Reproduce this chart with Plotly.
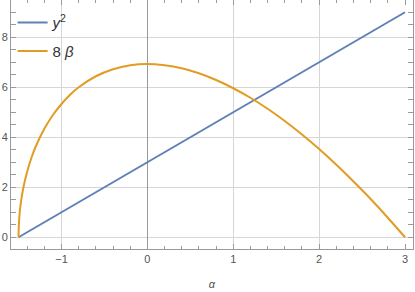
import plotly.graph_objects as go

# ---- data ----
alpha_blue = [-1.5, 3.0]
y2_values = [0.0, 9.0]

alpha_orange = [-1.5, -1.4975, -1.49, -1.48, -1.46, -1.44, -1.40, -1.35, -1.30, -1.20,
                -1.10, -1.00, -0.90, -0.80, -0.60, -0.40, -0.20, 0.00, 0.20, 0.40,
                0.60, 0.80, 1.00, 1.20, 1.40, 1.60, 1.80, 2.00, 2.20, 2.40,
                2.60, 2.80, 3.00]
beta8_values = [0.0, 0.42, 0.85, 1.20, 1.68, 2.05, 2.62, 3.18, 3.63, 4.34,
                4.89, 5.33, 5.70, 6.00, 6.44, 6.72, 6.88, 6.93, 6.88, 6.76,
                6.56, 6.29, 5.96, 5.58, 5.14, 4.65, 4.11, 3.53, 2.90, 2.23,
                1.53, 0.78, 0.0]

x_ticks = [-1, 0, 1, 2, 3]
x_tick_text = ["−1", "0", "1", "2", "3"]
x_grid = [-1, 1, 2]
y_ticks = [0, 2, 4, 6, 8]

BLUE = "#5E81B5"
ORANGE = "#E19C24"
FRAME = "#9a9a9a"
LABEL = "#555555"
GRID = "#d6d6d6"
FONT = "Liberation Sans, Arial, sans-serif"

xr = [-1.588, 3.093]
yr = [-0.47, 9.49]

fig = go.Figure()
# invisible trace on the grid axis (drawn first)
fig.add_trace(go.Scatter(x=[None], y=[None], xaxis="x2", showlegend=False, hoverinfo="skip"))
fig.add_trace(go.Scatter(x=alpha_blue, y=y2_values, mode="lines",
                         name="<i>y</i><sup>2</sup>", legendgroup="a",
                         line=dict(color=BLUE, width=2)))
fig.add_trace(go.Scatter(x=alpha_orange, y=beta8_values, mode="lines",
                         name="8 <i>β</i>", legendgroup="b",
                         line=dict(color=ORANGE, width=2, shape="spline", smoothing=0.6)))

fig.update_layout(
    width=415, height=292,
    margin=dict(l=11, r=2, t=0, b=43),
    paper_bgcolor="white", plot_bgcolor="white",
    font=dict(family=FONT, size=10, color=LABEL),
    showlegend=True,
    legend=dict(x=0.004, y=0.975, xanchor="left", yanchor="top",
                bgcolor="rgba(0,0,0,0)", font=dict(size=15, color="#333333"),
                itemwidth=30, tracegroupgap=6),
    xaxis=dict(range=xr, tickvals=x_ticks, ticktext=x_tick_text, automargin=False,
               showgrid=False, zeroline=True, zerolinecolor="#999999", zerolinewidth=1,
               showline=True, linecolor=FRAME, linewidth=1, mirror="allticks",
               ticks="inside", ticklen=5, tickcolor=FRAME, tickwidth=1,
               minor=dict(dtick=0.2, tick0=0, ticks="inside", ticklen=3,
                          tickcolor=FRAME, showgrid=False),
               tickfont=dict(size=11, color=LABEL),
               title=dict(text="<i>α</i>", font=dict(size=11, color=LABEL), standoff=16)),
    xaxis2=dict(range=xr, overlaying="x", tickvals=x_grid, showticklabels=False,
                showgrid=True, gridcolor=GRID, gridwidth=1, zeroline=False,
                showline=False, ticks="", automargin=False),
    yaxis=dict(range=yr, tickvals=y_ticks, showgrid=True, gridcolor=GRID, gridwidth=1,
               zeroline=False, automargin=False,
               showline=True, linecolor=FRAME, linewidth=1, mirror="allticks",
               ticks="inside", ticklen=5, tickcolor=FRAME, tickwidth=1,
               minor=dict(dtick=0.5, tick0=0, ticks="inside", ticklen=3,
                          tickcolor=FRAME, showgrid=False),
               tickfont=dict(size=11, color=LABEL)),
)

fig.write_html("out.html", config={"displayModeBar": False},
               post_script="document.body.style.margin='0';document.body.style.overflow='hidden';")
